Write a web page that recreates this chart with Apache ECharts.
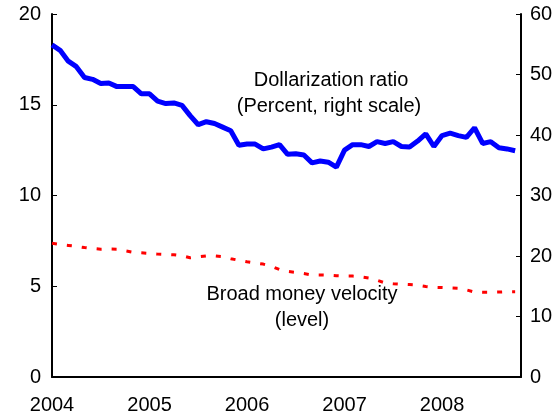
<!DOCTYPE html>
<html>
<head>
<meta charset="utf-8">
<script src="https://cdn.jsdelivr.net/npm/echarts@6/dist/echarts.min.js"></script>
<style>
html, body { margin: 0; padding: 0; background: #fff; }
#main { width: 560px; height: 416px; }
</style>
</head>
<body>
<div id="main"></div>
<script>
// monthly data, Jan 2004 - Oct 2008
var startYear = 2004;
var yearTicks = ['2004', '2005', '2006', '2007', '2008'];

// Dollarization ratio, percent (right scale)
var dollarization = [
    54.9, 54.0, 52.2, 51.3, 49.5, 49.2, 48.5, 48.6, 48.0, 48.0,
    48.0, 46.8, 46.8, 45.6, 45.2, 45.3, 44.9, 43.2, 41.7, 42.2,
    41.9, 41.3, 40.7, 38.3, 38.5, 38.5, 37.7, 38.0, 38.4, 36.8,
    36.9, 36.7, 35.4, 35.7, 35.5, 34.7, 37.5, 38.4, 38.4, 38.1,
    38.9, 38.6, 38.9, 38.1, 38.0, 39.0, 40.2, 38.1, 39.9, 40.3,
    39.9, 39.6, 41.2, 38.6, 38.9, 37.9, 37.7, 37.4
];

// Broad money velocity, level (left scale)
var velocity = [
    7.37, 7.30, 7.25, 7.20, 7.13, 7.08, 7.04, 7.05, 7.04, 6.95,
    6.87, 6.84, 6.81, 6.77, 6.75, 6.73, 6.68, 6.57, 6.62, 6.67,
    6.67, 6.63, 6.52, 6.43, 6.35, 6.28, 6.22, 6.10, 5.92, 5.82,
    5.76, 5.70, 5.62, 5.62, 5.61, 5.58, 5.56, 5.56, 5.52, 5.45,
    5.33, 5.18, 5.14, 5.11, 5.09, 5.06, 4.99, 4.94, 4.93, 4.91,
    4.89, 4.80, 4.68, 4.67, 4.67, 4.68, 4.70, 4.70
];

function toPairs(arr) {
    return arr.map(function (v, i) { return [startYear + i / 12, v]; });
}

var myChart = echarts.init(document.getElementById('main'));
var font = 'Liberation Sans, Arial, sans-serif';
var fs = 20;

function note(text, x, y) {
    return {
        type: 'text', x: x, y: y,
        style: { text: text, fill: '#000', font: fs + 'px ' + font, align: 'center', verticalAlign: 'middle' }
    };
}

var option = {
    animation: false,
    backgroundColor: '#fff',
    grid: { left: 52, right: 39, top: 14, bottom: 39 },
    xAxis: {
        type: 'value',
        min: 2004,
        max: 2008.81,
        interval: 1,
        axisLine: { lineStyle: { color: '#000', width: 2 } },
        axisTick: { show: false },
        splitLine: { show: false },
        axisLabel: {
            color: '#000', fontSize: fs, fontFamily: font, margin: 18,
            showMaxLabel: false,
            formatter: function (v) {
                var s = String(Math.round(v));
                return yearTicks.indexOf(s) >= 0 ? s : '';
            }
        }
    },
    yAxis: [
        {
            type: 'value', min: 0, max: 20, interval: 5,
            axisLine: { show: true, lineStyle: { color: '#000', width: 2 } },
            axisTick: { show: true, inside: true, length: 5, lineStyle: { color: '#000' } },
            splitLine: { show: false },
            axisLabel: { color: '#000', fontSize: fs, fontFamily: font, margin: 11 }
        },
        {
            type: 'value', min: 0, max: 60, interval: 10,
            axisLine: { show: true, lineStyle: { color: '#000', width: 2 } },
            axisTick: { show: true, inside: true, length: 5, lineStyle: { color: '#000' } },
            splitLine: { show: false },
            axisLabel: { color: '#000', fontSize: fs, fontFamily: font, margin: 9 }
        }
    ],
    series: [
        {
            name: 'Dollarization ratio',
            type: 'line',
            yAxisIndex: 1,
            showSymbol: false,
            data: toPairs(dollarization),
            lineStyle: { color: '#0000ff', width: 5 }
        },
        {
            name: 'Broad money velocity',
            type: 'line',
            yAxisIndex: 0,
            showSymbol: false,
            data: toPairs(velocity),
            lineStyle: { color: '#ff0000', width: 3, type: [5, 10] }
        }
    ],
    graphic: [
        note('Dollarization ratio', 331, 80),
        note('(Percent, right scale)', 329, 106),
        note('Broad money velocity', 302, 294),
        note('(level)', 302, 320)
    ]
};

myChart.setOption(option);
</script>
</body>
</html>
